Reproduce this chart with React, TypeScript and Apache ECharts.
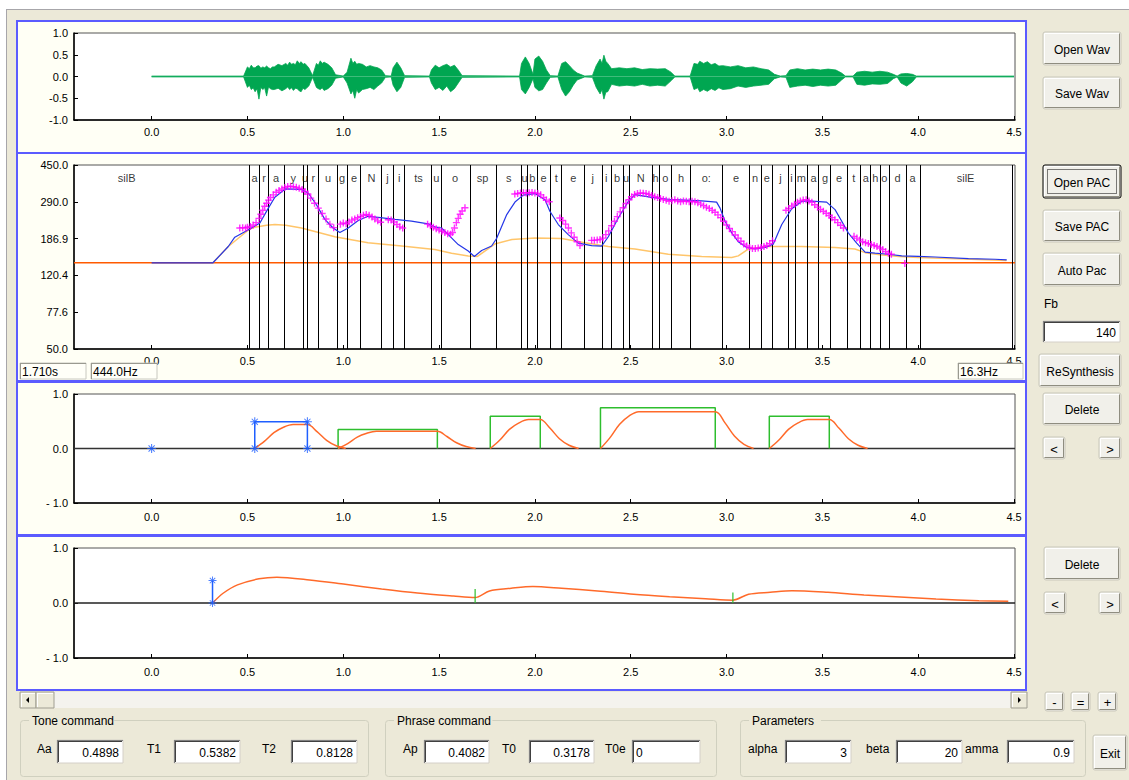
import React, { useEffect, useRef } from "react";
import * as echarts from "echarts";

const W = 1129;
const H = 780;
const FONT = '"Liberation Sans", Arial, sans-serif';

// ---- axes ----
const X_MIN = -0.405;
const X_MAX = 4.505;
const TIME_TICKS = [0, 0.5, 1, 1.5, 2, 2.5, 3, 3.5, 4, 4.5];
const WAVE_TICK_LABELS = ["-1.0", "-0.5", "0.0", "0.5", "1.0"];
const F0_TICK_LABELS = ["50.0", "77.6", "120.4", "186.9", "290.0", "450.0"];
const F0_MIN_HZ = 50;
const F0_MAX_HZ = 450;
const AMP_TICK_LABELS = ["- 1.0", "0.0", "1.0"];

// ---- waveform envelope (time s, upper, lower) ----
const waveT = [0.0, 0.48, 0.5, 0.51, 0.52, 0.53, 0.54, 0.55, 0.56, 0.57, 0.58, 0.59, 0.6, 0.61, 0.62, 0.63, 0.64, 0.66, 0.68, 0.7, 0.71, 0.72, 0.73, 0.74, 0.75, 0.76, 0.77, 0.78, 0.79, 0.8, 0.82, 0.84, 0.86, 0.87, 0.88, 0.89, 0.9, 0.92, 0.94, 0.96, 1.0, 1.02, 1.04, 1.05, 1.06, 1.07, 1.08, 1.1, 1.12, 1.14, 1.16, 1.18, 1.2, 1.22, 1.25, 1.26, 1.28, 1.3, 1.32, 1.45, 1.46, 1.48, 1.5, 1.52, 1.54, 1.56, 1.58, 1.6, 1.62, 1.92, 1.93, 1.95, 1.97, 1.99, 2.0, 2.02, 2.04, 2.06, 2.08, 2.12, 2.14, 2.16, 2.18, 2.2, 2.22, 2.26, 2.3, 2.32, 2.34, 2.35, 2.36, 2.37, 2.38, 2.4, 2.44, 2.48, 2.52, 2.56, 2.6, 2.64, 2.68, 2.71, 2.73, 2.81, 2.83, 2.85, 2.86, 2.88, 2.9, 2.92, 2.94, 2.96, 2.98, 3.02, 3.06, 3.1, 3.14, 3.18, 3.22, 3.25, 3.28, 3.31, 3.33, 3.37, 3.41, 3.45, 3.49, 3.53, 3.57, 3.6, 3.62, 3.66, 3.68, 3.72, 3.76, 3.8, 3.84, 3.87, 3.89, 3.91, 3.94, 3.97, 3.99, 4.5];
const waveUp = [0.01, 0.01, 0.22, 0.18, 0.26, 0.2, 0.2, 0.24, 0.25, 0.19, 0.22, 0.2, 0.24, 0.2, 0.18, 0.22, 0.22, 0.28, 0.25, 0.3, 0.26, 0.33, 0.28, 0.3, 0.27, 0.36, 0.3, 0.34, 0.28, 0.3, 0.2, 0.02, 0.3, 0.26, 0.36, 0.3, 0.33, 0.28, 0.2, 0.04, 0.01, 0.1, 0.42, 0.3, 0.35, 0.28, 0.3, 0.28, 0.22, 0.25, 0.22, 0.2, 0.15, 0.02, 0.01, 0.2, 0.33, 0.2, 0.02, 0.01, 0.15, 0.26, 0.2, 0.25, 0.28, 0.22, 0.26, 0.15, 0.02, 0.01, 0.3, 0.45, 0.3, 0.05, 0.4, 0.47, 0.35, 0.15, 0.02, 0.01, 0.3, 0.34, 0.25, 0.15, 0.08, 0.01, 0.02, 0.25, 0.4, 0.3, 0.49, 0.35, 0.3, 0.18, 0.2, 0.18, 0.2, 0.16, 0.18, 0.17, 0.18, 0.1, 0.01, 0.01, 0.3, 0.28, 0.35, 0.3, 0.34, 0.27, 0.3, 0.24, 0.25, 0.22, 0.25, 0.2, 0.22, 0.18, 0.15, 0.05, 0.01, 0.02, 0.15, 0.18, 0.15, 0.17, 0.15, 0.17, 0.15, 0.08, 0.01, 0.01, 0.1, 0.12, 0.1, 0.12, 0.1, 0.05, 0.01, 0.06, 0.07, 0.05, 0.01, 0.01];
const waveLo = [-0.01, -0.01, -0.25, -0.2, -0.3, -0.26, -0.35, -0.28, -0.52, -0.25, -0.3, -0.26, -0.45, -0.24, -0.28, -0.3, -0.3, -0.27, -0.33, -0.28, -0.24, -0.3, -0.26, -0.32, -0.27, -0.28, -0.33, -0.35, -0.27, -0.3, -0.22, -0.02, -0.25, -0.28, -0.3, -0.26, -0.32, -0.28, -0.2, -0.04, -0.01, -0.15, -0.4, -0.32, -0.5, -0.3, -0.38, -0.3, -0.28, -0.25, -0.3, -0.22, -0.15, -0.02, -0.01, -0.2, -0.35, -0.25, -0.02, -0.01, -0.15, -0.3, -0.25, -0.32, -0.22, -0.35, -0.28, -0.15, -0.02, -0.01, -0.3, -0.4, -0.25, -0.05, -0.25, -0.33, -0.3, -0.15, -0.02, -0.01, -0.3, -0.45, -0.35, -0.2, -0.08, -0.01, -0.02, -0.25, -0.4, -0.3, -0.52, -0.36, -0.35, -0.18, -0.22, -0.2, -0.22, -0.18, -0.22, -0.2, -0.22, -0.1, -0.01, -0.01, -0.3, -0.26, -0.35, -0.3, -0.34, -0.28, -0.32, -0.26, -0.3, -0.28, -0.22, -0.25, -0.22, -0.2, -0.18, -0.05, -0.01, -0.02, -0.25, -0.22, -0.2, -0.23, -0.2, -0.22, -0.2, -0.08, -0.01, -0.01, -0.18, -0.2, -0.17, -0.18, -0.16, -0.05, -0.01, -0.15, -0.22, -0.12, -0.01, -0.01];

// ---- F0 panel ----
const FB_HZ = 140;
// model F0 (blue): [time s, Hz]
const modelF0 = [[0.0, 140], [0.32, 140], [0.4, 170], [0.434, 190], [0.51, 209], [0.565, 225], [0.609, 269], [0.643, 306], [0.697, 338], [0.782, 336], [0.817, 322], [0.86, 280], [0.904, 235], [0.947, 212], [0.982, 201], [1.026, 212], [1.078, 232], [1.13, 244], [1.182, 241], [1.27, 235], [1.356, 230], [1.443, 223], [1.478, 215], [1.513, 212], [1.548, 196], [1.6, 174], [1.652, 161], [1.684, 151], [1.722, 162], [1.774, 171], [1.8, 187], [1.853, 249], [1.896, 289], [1.939, 314], [2.0, 320], [2.053, 297], [2.078, 259], [2.122, 221], [2.174, 196], [2.226, 177], [2.296, 172], [2.348, 171], [2.383, 191], [2.435, 239], [2.487, 291], [2.522, 316], [2.609, 306], [2.696, 299], [2.783, 296], [2.87, 293], [2.948, 289], [2.966, 269], [2.992, 230], [3.027, 200], [3.061, 180], [3.105, 168], [3.149, 165], [3.201, 168], [3.244, 175], [3.288, 221], [3.34, 267], [3.392, 291], [3.426, 293], [3.522, 289], [3.566, 264], [3.601, 230], [3.635, 200], [3.679, 177], [3.723, 159], [3.775, 157], [3.844, 155], [3.914, 152], [4.001, 151], [4.088, 150], [4.262, 147], [4.401, 146], [4.462, 145]];
// phrase component + Fb (light orange): [time s, Hz]
const phraseF0 = [[0.32, 140], [0.4, 170], [0.51, 209], [0.538, 214], [0.6, 219], [0.643, 221], [0.7, 219], [0.782, 212], [0.956, 191], [1.129, 178], [1.305, 171], [1.478, 164], [1.565, 157], [1.652, 152], [1.7, 151], [1.79, 175], [1.88, 185], [2.0, 188], [2.14, 187], [2.261, 178], [2.383, 170], [2.522, 165], [2.696, 155], [2.87, 151], [3.027, 149], [3.061, 152], [3.113, 165], [3.218, 170], [3.392, 170], [3.566, 168], [3.67, 165], [3.723, 158], [3.8, 154], [3.9, 151], [4.0, 149], [4.2, 147], [4.46, 144]];
// observed F0 (magenta +): [time s, Hz]
const observedF0 = [[0.46, 212], [0.475, 213], [0.49, 212], [0.5, 214], [0.515, 216], [0.53, 220], [0.545, 226], [0.56, 238], [0.57, 250], [0.58, 262], [0.59, 275], [0.6, 285], [0.61, 296], [0.62, 305], [0.635, 315], [0.65, 325], [0.665, 332], [0.68, 338], [0.695, 344], [0.71, 348], [0.725, 349], [0.74, 347], [0.755, 345], [0.77, 341], [0.785, 336], [0.8, 328], [0.815, 318], [0.83, 303], [0.85, 285], [0.87, 269], [0.89, 252], [0.91, 236], [0.93, 222], [0.95, 213],
  [0.985, 222], [1.0, 225], [1.015, 223], [1.03, 228], [1.045, 233], [1.06, 236], [1.075, 240], [1.09, 243], [1.105, 247], [1.12, 249], [1.135, 247], [1.15, 242], [1.165, 236], [1.18, 231], [1.195, 227],
  [1.235, 234], [1.25, 233], [1.265, 228], [1.28, 221], [1.295, 215], [1.31, 212],
  [1.44, 222], [1.455, 218], [1.47, 214], [1.485, 210], [1.5, 207], [1.515, 204], [1.53, 201], [1.545, 198], [1.56, 197], [1.57, 201], [1.58, 212], [1.59, 226], [1.6, 238], [1.61, 250], [1.62, 260], [1.635, 270],
  [1.895, 318], [1.91, 320], [1.925, 322], [1.94, 323], [1.955, 322], [1.97, 323], [1.985, 324], [2.0, 322], [2.015, 320], [2.03, 315], [2.045, 305], [2.06, 296], [2.075, 290],
  [2.13, 239], [2.145, 232], [2.16, 222], [2.175, 212], [2.19, 200], [2.205, 190], [2.22, 180], [2.235, 172],
  [2.296, 183], [2.31, 183], [2.325, 184], [2.34, 185], [2.355, 188], [2.37, 196], [2.385, 205], [2.4, 218], [2.415, 230], [2.43, 243], [2.445, 257], [2.46, 270], [2.475, 284], [2.49, 297], [2.505, 308], [2.52, 316], [2.535, 320], [2.55, 322], [2.565, 321], [2.58, 320], [2.595, 317], [2.61, 313], [2.625, 308], [2.64, 305], [2.655, 302], [2.67, 298], [2.685, 295], [2.7, 292], [2.715, 294], [2.73, 297], [2.745, 293], [2.76, 290], [2.775, 293], [2.79, 292], [2.805, 290], [2.82, 292], [2.835, 290], [2.85, 287], [2.865, 282], [2.88, 277], [2.895, 272], [2.91, 268], [2.925, 262], [2.94, 256], [2.955, 248], [2.97, 240], [2.985, 230], [3.0, 220], [3.015, 211], [3.03, 203], [3.045, 195], [3.06, 188], [3.075, 181], [3.09, 175], [3.105, 171], [3.12, 168], [3.135, 166], [3.15, 166], [3.165, 167], [3.18, 168], [3.195, 170], [3.21, 172], [3.225, 176], [3.24, 182],
  [3.31, 262], [3.325, 268], [3.34, 276], [3.355, 282], [3.37, 288], [3.385, 293], [3.4, 296], [3.415, 297], [3.43, 293], [3.445, 288], [3.46, 280], [3.475, 272], [3.49, 265], [3.505, 259], [3.52, 253], [3.535, 246], [3.55, 240], [3.565, 234], [3.58, 226], [3.595, 219], [3.61, 212],
  [3.665, 192], [3.68, 188], [3.695, 184], [3.71, 180], [3.725, 178], [3.74, 176], [3.755, 174], [3.77, 172], [3.785, 170], [3.8, 167], [3.815, 164], [3.83, 160], [3.845, 157], [3.86, 155],
  [3.93, 139]];

// phoneme segmentation
const segBounds = [0.51, 0.565, 0.609, 0.69, 0.787, 0.815, 0.873, 0.969, 1.019, 1.094, 1.201, 1.259, 1.324, 1.462, 1.509, 1.657, 1.796, 1.932, 1.961, 2.013, 2.078, 2.144, 2.256, 2.347, 2.397, 2.459, 2.493, 2.611, 2.647, 2.715, 2.809, 2.979, 3.12, 3.177, 3.244, 3.319, 3.357, 3.423, 3.484, 3.545, 3.63, 3.698, 3.754, 3.797, 3.849, 3.935, 4.006, 4.488];
const segLabels = ["a", "r", "a", "y", "u", "r", "u", "g", "e", "N", "j", "i", "ts", "u", "o", "sp", "s", "u", "b", "e", "t", "e", "j", "i", "b", "u", "N", "h", "o", "h", "o:", "e", "n", "e", "j", "i", "m", "a", "g", "e", "t", "a", "h", "o", "d", "a", "silE"];
const leadLabel = "silB";
const leadLabelT = -0.13;
const PHONE_LABEL_LEVEL = 4.64;

// ---- accent (tone) commands ----
const toneT1 = [0.5382, 0.973, 1.767, 2.342, 3.223];
const toneT2 = [0.8128, 1.491, 2.028, 2.941, 3.536];
const toneAa = [0.4898, 0.35, 0.59, 0.75, 0.59];
const accentRespT = [
  [0.538, 0.588, 0.638, 0.688, 0.738, 0.813, 0.863, 0.913, 0.963, 1.013],
  [0.973, 1.023, 1.073, 1.123, 1.173, 1.491, 1.541, 1.591, 1.641, 1.691],
  [1.767, 1.817, 1.867, 1.917, 1.967, 2.028, 2.078, 2.128, 2.178, 2.228],
  [2.342, 2.392, 2.442, 2.492, 2.542, 2.941, 2.991, 3.041, 3.091, 3.141],
  [3.223, 3.273, 3.323, 3.373, 3.423, 3.536, 3.586, 3.636, 3.686, 3.736],
];
const accentRespV = [
  [0, 0.13, 0.29, 0.39, 0.44, 0.44, 0.31, 0.15, 0.05, 0],
  [0, 0.09, 0.21, 0.28, 0.315, 0.315, 0.22, 0.105, 0.035, 0],
  [0, 0.155, 0.35, 0.47, 0.53, 0.53, 0.375, 0.18, 0.06, 0],
  [0, 0.2, 0.445, 0.6, 0.675, 0.675, 0.475, 0.23, 0.075, 0],
  [0, 0.155, 0.35, 0.47, 0.53, 0.53, 0.375, 0.18, 0.06, 0],
];
const originMarker = [0, 0];

// ---- phrase commands ----
const phraseT0 = [0.3178, 1.688, 3.033];
const phraseAp = [0.4082, 0.256, 0.19];
const phraseCurveT = [0.318, 0.373, 0.448, 0.56, 0.654, 0.824, 1.01, 1.2, 1.387, 1.575, 1.688, 1.763, 1.876, 1.989, 2.139, 2.327, 2.515, 2.703, 2.89, 3.033, 3.115, 3.228, 3.341, 3.529, 3.717, 3.905, 4.093, 4.317, 4.47];
const phraseCurveV = [0, 0.177, 0.33, 0.44, 0.47, 0.42, 0.34, 0.256, 0.183, 0.128, 0.1, 0.22, 0.268, 0.3, 0.268, 0.22, 0.159, 0.115, 0.079, 0.052, 0.159, 0.195, 0.225, 0.195, 0.146, 0.11, 0.073, 0.042, 0.03];

// ---- UI texts ----
const infoBoxes = [
  { x: 20, y: 363, w: 66, h: 16, text: "1.710s" },
  { x: 91, y: 363, w: 66, h: 16, text: "444.0Hz" },
  { x: 958, y: 363, w: 65, h: 16, text: "16.3Hz" },
];
const buttons = [
  { label: "Open Wav", x: 1043, y: 32, w: 78, h: 33 },
  { label: "Save Wav", x: 1043, y: 77, w: 78, h: 32 },
  { label: "Open PAC", x: 1043, y: 165, w: 78, h: 33, focus: true },
  { label: "Save PAC", x: 1043, y: 210, w: 78, h: 32 },
  { label: "Auto Pac", x: 1043, y: 253, w: 78, h: 33 },
  { label: "ReSynthesis", x: 1039, y: 354, w: 82, h: 33 },
  { label: "Delete", x: 1043, y: 393, w: 78, h: 32 },
  { label: "<", x: 1043, y: 437, w: 22, h: 22 },
  { label: ">", x: 1099, y: 437, w: 22, h: 22 },
  { label: "Delete", x: 1044, y: 547, w: 76, h: 33 },
  { label: "<", x: 1044, y: 592, w: 22, h: 22 },
  { label: ">", x: 1099, y: 592, w: 22, h: 22 },
  { label: "-", x: 1045, y: 692, w: 19, h: 19 },
  { label: "=", x: 1071, y: 692, w: 19, h: 19 },
  { label: "+", x: 1098, y: 692, w: 19, h: 19 },
  { label: "Exit", x: 1093, y: 735, w: 34, h: 35 },
];
const groupBoxes = [
  { label: "Tone command", x: 20, y: 720, w: 348, h: 56 },
  { label: "Phrase command", x: 385, y: 720, w: 331, h: 56 },
  { label: "Parameters", x: 740, y: 720, w: 345, h: 56 },
];
const fields = [
  { label: "Aa", lx: 37, x: 57, w: 66, text: "0.4898" },
  { label: "T1", lx: 147, x: 174, w: 66, text: "0.5382" },
  { label: "T2", lx: 262, x: 291, w: 66, text: "0.8128" },
  { label: "Ap", lx: 403, x: 424, w: 65, text: "0.4082" },
  { label: "T0", lx: 502, x: 529, w: 65, text: "0.3178" },
  { label: "T0e", lx: 605, x: 632, w: 68, text: "0", left: true },
  { label: "alpha", lx: 748, x: 785, w: 66, text: "3" },
  { label: "beta", lx: 866, x: 896, w: 66, text: "20" },
  { label: "amma", lx: 965, x: 1007, w: 67, text: "0.9" },
];

const GREEN_WAVE = "#00A651";
const BLUE_F0 = "#2436E8";
const MAGENTA = "#FF00FF";
const PHRASE_YELLOW = "#FFC56A";
const FB_RED = "#FF5A00";
const RESP_ORANGE = "#FF6A2A";
const CMD_GREEN = "#2EBE2E";
const CMD_BLUE = "#1F5FFF";
const ASTERISK = "path://M4.4,0H5.6V10H4.4Z M0,4.4H10V5.6H0Z M1.2,2L2,1.2L8.8,8L8,8.8Z M8,1.2L8.8,2L2,8.8L1.2,8Z";
const PLUS = "path://M3.6,0H5.4V9H3.6Z M0,3.6H9V5.4H0Z";

const toV = (f: number) => ((F0_TICK_LABELS.length - 1) * Math.log(f / F0_MIN_HZ)) / Math.log(F0_MAX_HZ / F0_MIN_HZ);

function buildGraphic() {
  const g: any[] = [];
  const rect = (x: number, y: number, w: number, h: number, style: any, z = 0, r = 0) =>
    g.push({ type: "rect", silent: true, z, shape: { x, y, width: w, height: h, r }, style });
  const line = (x1: number, y1: number, x2: number, y2: number, stroke: string, lw = 1, z = 0) =>
    g.push({ type: "line", silent: true, z, shape: { x1, y1, x2, y2 }, style: { stroke, lineWidth: lw } });
  const text = (x: number, y: number, t: string, opt: any = {}, z = 8) =>
    g.push({
      type: "text", silent: true, z, x, y,
      style: { text: t, fill: "#000", fontSize: 12, fontFamily: FONT, textAlign: "left", textVerticalAlign: "middle", align: "left", verticalAlign: "middle", ...opt },
    });

  // page + window
  rect(0, 0, W, H, { fill: "#FFFFFF" }, -30);
  rect(6, 9, W - 6, H - 9, { fill: "#ECE9D8" }, -29);
  line(6, 9.5, W, 9.5, "#A7A6AA", 1, -28);
  line(6.5, 9, 6.5, H, "#A7A6AA", 1, -28);

  // panels
  const panels = [
    [17, 21, 1009, 132],
    [17, 153, 1009, 228],
    [17, 382, 1009, 153],
    [17, 536, 1009, 154],
  ];
  panels.forEach(([x, y, w, h]) => rect(x, y, w, h, { fill: "#FFFFF5", stroke: "#5B5BFF", lineWidth: 2 }, -20));

  // info boxes of F0 panel
  infoBoxes.forEach((b) => {
    rect(b.x, b.y, b.w, b.h, { fill: "#FFFFF8", stroke: "#C8C8C0", lineWidth: 1 }, 10);
    line(b.x, b.y + 0.5, b.x + b.w, b.y + 0.5, "#9A9A90", 1, 10);
    line(b.x + 0.5, b.y, b.x + 0.5, b.y + b.h, "#9A9A90", 1, 10);
    text(b.x + 2, b.y + b.h / 2 + 1, b.text, { fontSize: 12 }, 11);
  });

  // buttons
  buttons.forEach((b: any) => {
    const { x, y, w, h } = b;
    rect(x, y, w, h, { fill: "#F1F0EA", stroke: b.focus ? "#000" : "#C9C7BA", lineWidth: 1 }, 10, 2);
    g.push({ type: "polyline", silent: true, z: 11, shape: { points: [[x + 1.5, y + h - 2], [x + 1.5, y + 1.5], [x + w - 2, y + 1.5]] }, style: { stroke: "#FFFFFF", lineWidth: 1, fill: null } });
    g.push({ type: "polyline", silent: true, z: 11, shape: { points: [[x + w - 1.5, y + 1.5], [x + w - 1.5, y + h - 1.5], [x + 1.5, y + h - 1.5]] }, style: { stroke: "#8F8D80", lineWidth: 1, fill: null } });
    if (b.focus) {
      rect(x + 4.5, y + 4.5, w - 9, h - 9, { fill: null, stroke: "#000", lineWidth: 1, lineDash: [1, 1] }, 12);
    }
    text(x + w / 2, y + h / 2 + 1, b.label, { textAlign: "center", align: "center", fontSize: b.label.length === 1 ? 13 : 12 }, 13);
  });

  // Fb field
  text(1044, 304, "Fb", { fontSize: 12 });
  const field = (x: number, y: number, w: number, h: number, t: string, left = false) => {
    rect(x, y, w, h, { fill: "#FFFFFF", stroke: "#D4D0C8", lineWidth: 1 }, 10);
    line(x, y + 0.5, x + w, y + 0.5, "#808080", 1, 11);
    line(x + 0.5, y, x + 0.5, y + h, "#808080", 1, 11);
    line(x + 1, y + 1.5, x + w - 1, y + 1.5, "#404040", 1, 11);
    line(x + 1.5, y + 1, x + 1.5, y + h - 1, "#404040", 1, 11);
    if (left) text(x + 4, y + h / 2 + 1, t, {}, 12);
    else text(x + w - 4, y + h / 2 + 1, t, { textAlign: "right", align: "right" }, 12);
  };
  field(1043, 321, 77, 21, "140");

  // scrollbar
  rect(20, 692, 1007, 16, { fill: "#F4F3EE" }, 5);
  const sbBtn = (x: number, w: number) => {
    rect(x, 692, w, 16, { fill: "#ECE9D8", stroke: "#A09E92", lineWidth: 1 }, 6);
    line(x + 1, 693.5, x + w - 1, 693.5, "#FFFFFF", 1, 7);
    line(x + 1.5, 693, x + 1.5, 707, "#FFFFFF", 1, 7);
  };
  sbBtn(20, 16);
  sbBtn(36, 18);
  sbBtn(1011, 16);
  g.push({ type: "polygon", silent: true, z: 8, shape: { points: [[26, 700], [29, 697], [29, 703]] }, style: { fill: "#000" } });
  g.push({ type: "polygon", silent: true, z: 8, shape: { points: [[1021, 700], [1018, 697], [1018, 703]] }, style: { fill: "#000" } });

  // group boxes
  groupBoxes.forEach((b) => {
    rect(b.x + 0.5, b.y + 0.5, b.w, b.h, { fill: null, stroke: "#D0D0BF", lineWidth: 1 }, 4, 3);
    const tw = b.label.length * 6.6 + 6;
    rect(b.x + 9, b.y - 7, tw, 14, { fill: "#ECE9D8" }, 5);
    text(b.x + 12, b.y + 1, b.label, {}, 6);
  });
  fields.forEach((f: any) => {
    text(f.lx, 749, f.label);
    field(f.x, 740, f.w, 23, f.text, !!f.left);
  });

  return g;
}

function buildOption() {
  const grids = [
    { left: 74, top: 33, width: 941, height: 87 },
    { left: 74, top: 165, width: 941, height: 184 },
    { left: 74, top: 394, width: 941, height: 109 },
    { left: 74, top: 548, width: 941, height: 110 },
  ].map((gr) => ({ ...gr, show: true, backgroundColor: "#FFFFFF", borderColor: "#555555", borderWidth: 1, containLabel: false }));

  const labelStyle = { color: "#000", fontSize: 11, fontFamily: FONT };
  const xAxes = grids.map((_, i) => ({
    type: "value",
    gridIndex: i,
    min: X_MIN,
    max: X_MAX,
    axisLine: { show: true, onZero: false, lineStyle: { color: "#000", width: 1.5 } },
    axisTick: { show: true, inside: true, length: 4, customValues: TIME_TICKS, lineStyle: { color: "#000" } },
    axisLabel: { ...labelStyle, customValues: TIME_TICKS, margin: i >= 2 ? 8 : 6, formatter: (v: number) => v.toFixed(1) },
    splitLine: { show: false },
  }));
  const yCommon = (i: number) => ({
    type: "value",
    gridIndex: i,
    axisLine: { show: true, onZero: false, lineStyle: { color: "#000", width: 1.5 } },
    axisTick: { show: true, inside: true, length: 4, lineStyle: { color: "#000" } },
    splitLine: { show: false },
  });
  const yAxes = [
    { ...yCommon(0), min: -1, max: 1, interval: 0.5, axisLabel: { ...labelStyle, margin: 6, formatter: (v: number) => WAVE_TICK_LABELS[Math.round((v + 1) / 0.5)] } },
    { ...yCommon(1), min: 0, max: F0_TICK_LABELS.length - 1, interval: 1, axisLabel: { ...labelStyle, margin: 6, formatter: (v: number) => F0_TICK_LABELS[Math.round(v)] } },
    { ...yCommon(2), min: -1, max: 1, interval: 1, axisLabel: { ...labelStyle, margin: 6, formatter: (v: number) => AMP_TICK_LABELS[Math.round(v + 1)] } },
    { ...yCommon(3), min: -1, max: 1, interval: 1, axisLabel: { ...labelStyle, margin: 6, formatter: (v: number) => AMP_TICK_LABELS[Math.round(v + 1)] } },
  ];

  const series: any[] = [];
  const lineS = (gi: number, data: any[], color: string, width: number, extra: any = {}) =>
    series.push({ type: "line", xAxisIndex: gi, yAxisIndex: gi, data, showSymbol: false, symbol: "none", silent: true, lineStyle: { color, width }, ...extra });

  // panel 1: waveform
  lineS(0, waveT.map((t, i) => [t, waveUp[i]]), GREEN_WAVE, 0.8, { areaStyle: { color: GREEN_WAVE, opacity: 1, origin: "auto" } });
  lineS(0, waveT.map((t, i) => [t, waveLo[i]]), GREEN_WAVE, 0.8, { areaStyle: { color: GREEN_WAVE, opacity: 1, origin: "auto" } });

  // panel 2: F0
  lineS(1, [[X_MIN, toV(FB_HZ)], [X_MAX, toV(FB_HZ)]], FB_RED, 1.5, {
    z: 3,
    markLine: {
      silent: true, symbol: ["none", "none"], label: { show: false }, animation: false,
      lineStyle: { color: "#000", width: 1, type: "solid" },
      data: segBounds.map((t) => ({ xAxis: t })),
    },
  });
  lineS(1, phraseF0.map(([t, f]) => [t, toV(f)]), PHRASE_YELLOW, 1.5, { z: 4 });
  lineS(1, modelF0.map(([t, f]) => [t, toV(f)]), BLUE_F0, 1.2, { z: 5 });
  series.push({
    type: "scatter", xAxisIndex: 1, yAxisIndex: 1, silent: true, z: 6,
    symbol: PLUS, symbolSize: 7, itemStyle: { color: MAGENTA },
    data: observedF0.map(([t, f]) => [t, toV(f)]),
  });
  const mids = segLabels.map((n, i) => ({ name: n, value: [(segBounds[i] + segBounds[i + 1]) / 2, PHONE_LABEL_LEVEL] }));
  series.push({
    type: "scatter", xAxisIndex: 1, yAxisIndex: 1, silent: true, z: 7,
    symbolSize: 1, itemStyle: { color: "rgba(0,0,0,0)" },
    label: { show: true, position: "inside", formatter: (p: any) => p.name, color: "#000", fontSize: 11, fontFamily: FONT },
    data: [{ name: leadLabel, value: [leadLabelT, PHONE_LABEL_LEVEL] }, ...mids],
  });

  // panel 3: accent commands
  lineS(2, [[X_MIN, 0], [X_MAX, 0]], "#333333", 1.5, { z: 2 });
  toneT1.forEach((t1, i) => {
    if (i === 0) return;
    lineS(2, [[t1, 0], [t1, toneAa[i]], [toneT2[i], toneAa[i]], [toneT2[i], 0]], CMD_GREEN, 1.5, { z: 3 });
  });
  accentRespT.forEach((ts, i) => {
    lineS(2, ts.map((t, j) => [t, accentRespV[i][j]]), RESP_ORANGE, 1.5, { z: 4, smooth: 0.35 });
  });
  lineS(2, [[toneT1[0], 0], [toneT1[0], toneAa[0]], [toneT2[0], toneAa[0]], [toneT2[0], 0]], CMD_BLUE, 1.5, { z: 5 });
  series.push({
    type: "scatter", xAxisIndex: 2, yAxisIndex: 2, silent: true, z: 6,
    symbol: ASTERISK, symbolSize: 9, itemStyle: { color: CMD_BLUE },
    data: [originMarker, [toneT1[0], 0], [toneT1[0], toneAa[0]], [toneT2[0], toneAa[0]], [toneT2[0], 0]],
  });

  // panel 4: phrase commands
  lineS(3, [[X_MIN, 0], [X_MAX, 0]], "#222222", 1.5, { z: 2 });
  lineS(3, phraseCurveT.map((t, i) => [t, phraseCurveV[i]]), RESP_ORANGE, 1.5, { z: 3, smooth: 0.3 });
  phraseT0.forEach((t0, i) => {
    if (i === 0) return;
    lineS(3, [[t0, 0], [t0, phraseAp[i]]], CMD_GREEN, 1.2, { z: 4 });
  });
  lineS(3, [[phraseT0[0], 0], [phraseT0[0], phraseAp[0]]], CMD_BLUE, 1.5, { z: 5 });
  series.push({
    type: "scatter", xAxisIndex: 3, yAxisIndex: 3, silent: true, z: 6,
    symbol: ASTERISK, symbolSize: 8, itemStyle: { color: CMD_BLUE },
    data: [[phraseT0[0], 0], [phraseT0[0], phraseAp[0]]],
  });

  return {
    animation: false,
    backgroundColor: "#FFFFFF",
    textStyle: { fontFamily: FONT },
    grid: grids,
    xAxis: xAxes,
    yAxis: yAxes,
    series,
    graphic: { elements: buildGraphic() },
  };
}

export default function App() {
  const ref = useRef<HTMLDivElement>(null);
  useEffect(() => {
    if (!ref.current) return;
    const chart = echarts.init(ref.current, null, { renderer: "svg", width: W, height: H });
    chart.setOption(buildOption() as any);
    return () => chart.dispose();
  }, []);
  return <div ref={ref} style={{ position: "absolute", left: 0, top: 0, width: W, height: H }} />;
}
